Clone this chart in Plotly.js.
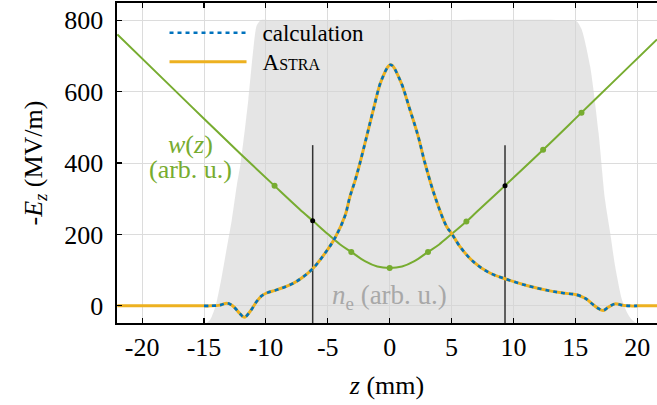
<!DOCTYPE html>
<html><head><meta charset="utf-8">
<script src="https://cdn.plot.ly/plotly-3.0.1.min.js"></script>
<style>html,body{margin:0;padding:0;overflow:hidden;background:#fff}</style>
</head><body><div id="chart" style="width:657px;height:405px"></div>
<script>
// E_z (MV/m) (ASTRA and calculation coincide)
const ezZ = [-22,-16,-15,-14.5,-13.7,-13.17,-12.8,-12.5,-12.09,-11.74,-11.28,-10.75,-10.34,-9.94,-9.2,-8.46,-7.8,-7.11,-6.22,-5.23,-4.42,-3.61,-3.21,-2.8,-2.4,-1.86,-1.32,-0.65,0.08,0.83,1.64,2.31,2.85,3.66,4.6,5.0,5.68,6.75,8.1,9.31,11.07,12.95,14.0,15.1,15.64,15.9,16.45,16.85,17.25,17.66,18.2,18.8,19.4,20,22];
const ezVal = [0,0,0,0,2,7.5,3,-6,-22,-32,-16,12,28,36,44,53,63,78,104,147,190,252,306,350,400,474,549,633,675,633,549,474,400,306,222,203,166,124,92,76,57,42,36,31,24,19,3,-7,-13,-4,5.6,2,0,0,0];
const calcRange = [-15, 20];

// beam size w(z), arb. u.
const wZ = [-22,-18,-15,-12,-9.3,-7,-6.2,-5,-4,-3.1,-2,-1,0,1,2,3.1,4,5,6.2,7,9.3,12.4,15.5,18,21.6];
const wVal = [760,625,524,424,336,262,238,201,172,151,125,110,106,110,125,151,172,201,236,262,336,437,541,625,746];
const wDotZ = [-9.3,-3.1,0,3.1,6.2,12.4,15.5];
const wDotVal = [336,151,106,151,236,437,541];

// marked positions
const markZ = [-6.22, 9.32];
const markW = [238, 336];
const markTop = 450;

// plasma density n_e profile (arb. u., scaled)
const neZ = [-15.4,-14.9,-14.5,-14.06,-13.63,-13.17,-12.76,-12.36,-12.04,-11.42,-11.02,-10.74,-10.4,-9.5,0,14.3,15.1,15.5,16.2,16.88,17.4,17.82,18.22,18.77,19.2,19.57,20.0,20.6];
const neVal = [-60,-50,-39,0,70,160,240,335,400,577,717,785,800,800,800,800,797,775,670,484,297,204,110,17,-20,-39,-50,-60];

const xTicks = [-20,-15,-10,-5,0,5,10,15,20];
const yTicks = [0,200,400,600,800];

const blue = '#0072BD', orange = '#EDB120', green = '#77AC30';
const serif = 'Liberation Serif';

const calcZ = [], calcV = [];
ezZ.forEach((z,i)=>{ if (z>=calcRange[0] && z<=calcRange[1]) { calcZ.push(z); calcV.push(ezVal[i]); } });

const vx = [], vy = [];
markZ.forEach(z=>{ vx.push(z, z, null); vy.push(-200, markTop, null); });

const traces = [
  {x: neZ, y: neVal, mode: 'lines', fill: 'toself', fillcolor: 'rgba(211,211,211,0.59)',
   line: {width: 0, shape: 'spline', smoothing: 0.7}, showlegend: false, hoverinfo: 'skip'},
  {x: wZ, y: wVal, mode: 'lines', line: {color: green, width: 2, shape: 'spline'}, showlegend: false},
  {x: wDotZ, y: wDotVal, mode: 'markers', marker: {color: green, size: 6}, showlegend: false},
  {x: vx, y: vy, mode: 'lines', line: {color: '#333333', width: 1.5}, showlegend: false},
  {x: ezZ, y: ezVal, name: '<span style="font-size:23px">A</span><span style="font-size:16px">STRA</span>', mode: 'lines',
   line: {color: orange, width: 3, shape: 'spline'}},
  {x: calcZ, y: calcV, name: '<span style="font-size:23px">calculation</span>', mode: 'lines',
   line: {color: blue, width: 2.6, dash: '4px,4px', shape: 'spline'}},
  {x: markZ, y: markW, mode: 'markers', marker: {color: '#000', size: 5}, showlegend: false}
];

const layout = {
  width: 657, height: 405,
  margin: {l: 117, r: 0, t: 3, b: 82},
  paper_bgcolor: '#fff', plot_bgcolor: '#fff',
  font: {family: serif, size: 26, color: '#000'},
  showlegend: true,
  legend: {x: 0.088, y: 0.968, xanchor: 'left', yanchor: 'top', bgcolor: 'rgba(0,0,0,0)',
           borderwidth: 0, font: {family: serif, size: 20}, traceorder: 'reversed', itemwidth: 88},
  xaxis: {range: [-22.03, 21.6], tickvals: xTicks, ticktext: xTicks.map(String),
          showgrid: true, gridcolor: '#dcdcdc', gridwidth: 1, zeroline: false,
          showline: true, linecolor: '#000', linewidth: 1.6, mirror: 'ticks',
          ticks: 'inside', ticklen: 5, tickcolor: '#000', tickwidth: 1.2,
          tickfont: {family: serif, size: 26},
          title: {text: '<i>z</i> (mm)', font: {family: serif, size: 26}, standoff: 15}},
  yaxis: {range: [-48, 848], tickvals: yTicks, ticktext: yTicks.map(String),
          showgrid: true, gridcolor: '#dcdcdc', gridwidth: 1, zeroline: false,
          showline: true, linecolor: '#000', linewidth: 1.6,
          ticks: 'inside', ticklen: 5, tickcolor: '#000', tickwidth: 1.2,
          tickfont: {family: serif, size: 26}, ticklabelstandoff: 7,
          title: {text: '-<i>E</i><sub><i>z</i></sub> (MV/m)', font: {family: serif, size: 26}, standoff: 14}},
  annotations: [
    {x: -16.13, y: 451, xref: 'x', yref: 'y', text: '<i>w</i>(<i>z</i>)', showarrow: false,
     font: {family: serif, size: 26, color: green}},
    {x: -16.13, y: 381, xref: 'x', yref: 'y', text: '(arb. u.)', showarrow: false,
     font: {family: serif, size: 26, color: green}},
    {x: 0, y: 24, xref: 'x', yref: 'y', text: '<i>n</i><sub>e</sub> (arb. u.)', showarrow: false,
     font: {family: serif, size: 27, color: '#a8a8a8'}}
  ]
};

Plotly.newPlot('chart', traces, layout, {displayModeBar: false, staticPlot: true}).then(()=>{
  document.querySelectorAll('.legend .legendlines path').forEach(p=>p.setAttribute('d','M5,0h77'));
});
</script></body></html>
